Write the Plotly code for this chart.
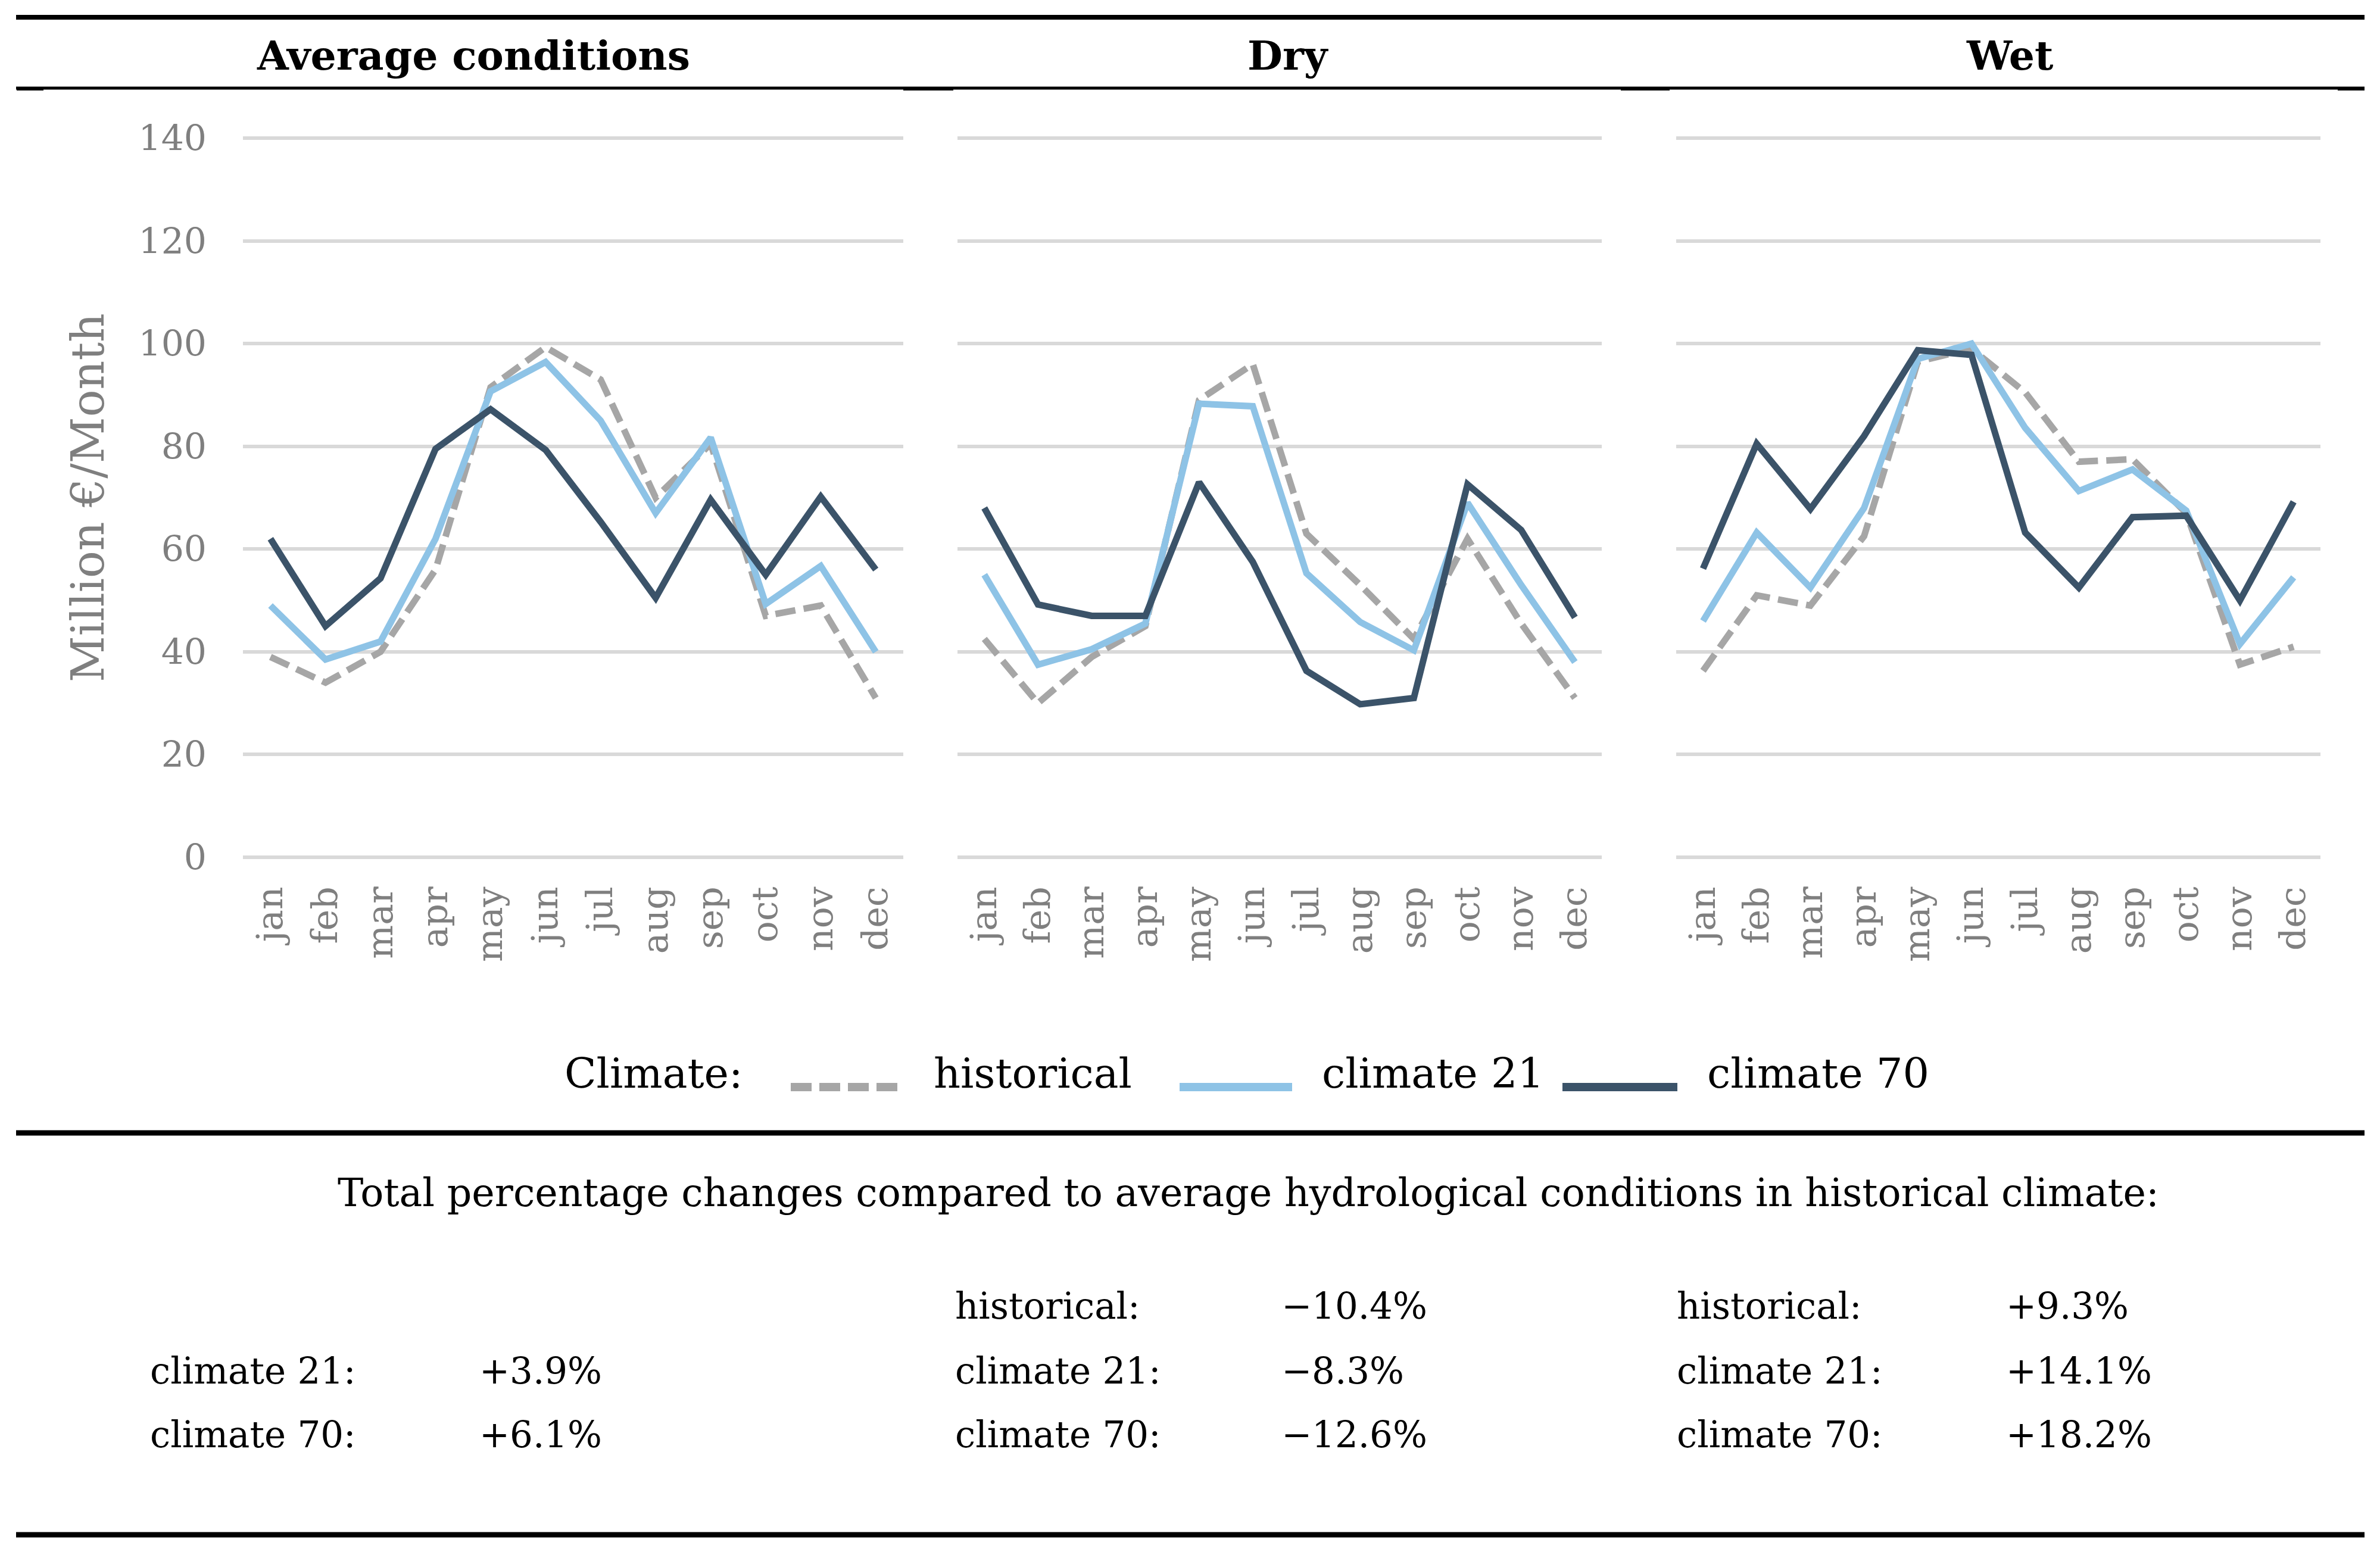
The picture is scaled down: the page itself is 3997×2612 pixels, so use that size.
import plotly.graph_objects as go

# ---------------- data ----------------
months = ["jan", "feb", "mar", "apr", "may", "jun", "jul", "aug", "sep", "oct", "nov", "dec"]
panel_titles = ["Average conditions", "Dry", "Wet"]
series_names = ["historical", "climate 21", "climate 70"]

hist_avg = [39, 34, 40, 56, 91.5, 99.3, 93, 70, 80.5, 47, 49, 31]
c21_avg = [49, 38.5, 42, 62, 90.7, 96.4, 85, 67, 81.7, 49.3, 56.7, 40]
c70_avg = [62, 45, 54.3, 79.5, 87.2, 79.3, 65.3, 50.5, 69.6, 55, 70.2, 56]

hist_dry = [42.5, 30, 39, 45, 89, 96, 63, 53, 42.5, 62, 45.5, 31]
c21_dry = [55, 37.5, 40.5, 45.5, 88.3, 87.8, 55.3, 45.8, 40.3, 69, 53, 38]
c70_dry = [68, 49.2, 47, 47, 73, 57.5, 36.3, 29.8, 31, 72.6, 63.7, 46.7]

hist_wet = [36.3, 51, 49, 62.5, 96.5, 99, 90.5, 77, 77.5, 67, 37.5, 41]
c21_wet = [46, 63.2, 52.5, 68, 97, 100, 83.6, 71.3, 75.5, 67.5, 41.5, 54.5]
c70_wet = [56.2, 80.5, 67.8, 82, 98.7, 97.8, 63.2, 52.5, 66.2, 66.5, 50, 69.2]

y_ticks = [0, 20, 40, 60, 80, 100, 120, 140]
y_title = "Million €/Month"
legend_title = "Climate:"
summary_title = "Total percentage changes compared to average hydrological conditions in historical climate:"
avg_labels = ["climate 21:", "climate 70:"]
avg_values = ["+3.9%", "+6.1%"]
dry_labels = ["historical:", "climate 21:", "climate 70:"]
dry_values = ["\u221210.4%", "\u22128.3%", "\u221212.6%"]
wet_labels = ["historical:", "climate 21:", "climate 70:"]
wet_values = ["+9.3%", "+14.1%", "+18.2%"]

# ---------------- style ----------------
W, H = 3997, 2612
FONT = "DejaVu Serif"
GRAY = "#7f7f7f"
GRID = "#d9d9d9"
COLORS = ["#a6a6a6", "#8ec3e6", "#3b5369"]
DASHES = ["34px,14px", "solid", "solid"]
LW = 11


def px(x):
    return x / W


def py(y):
    return 1 - y / H


panels = [
    (hist_avg, c21_avg, c70_avg),
    (hist_dry, c21_dry, c70_dry),
    (hist_wet, c21_wet, c70_wet),
]
x_domains = [(408, 1517), (1608, 2690), (2815, 3897)]
# 140 gridline at y=232, 0 gridline at y=1440; range padded by 0.5 on each end
unit = (1440 - 232) / 140.0
y_domain = [py(1440 + 0.5 * unit), py(232 - 0.5 * unit)]

fig = go.Figure()
for p, series in enumerate(panels):
    suffix = "" if p == 0 else str(p + 1)
    for s, vals in enumerate(series):
        fig.add_trace(go.Scatter(
            x=months, y=vals, mode="lines", name=series_names[s],
            line=dict(color=COLORS[s], width=LW, dash=DASHES[s]),
            xaxis="x" + suffix, yaxis="y" + suffix, showlegend=False,
        ))

layout = dict(
    width=W, height=H, margin=dict(l=0, r=0, t=0, b=0, pad=0, autoexpand=False),
    paper_bgcolor="white", plot_bgcolor="white",
    font=dict(family=FONT, color="black"),
    showlegend=False,
)
for p in range(3):
    suffix = "" if p == 0 else str(p + 1)
    layout["xaxis" + suffix] = dict(
        domain=[px(x_domains[p][0]), px(x_domains[p][1])],
        anchor="y" + suffix, type="category", categoryorder="array",
        categoryarray=months, range=[-0.5, 11.5], automargin=False,
        showgrid=False, zeroline=False, showline=False, ticks="",
        tickangle=-90, ticklabelstandoff=32,
        tickfont=dict(family=FONT, size=60, color=GRAY),
    )
    layout["yaxis" + suffix] = dict(
        domain=y_domain, anchor="x" + suffix, range=[-0.5, 140.5], automargin=False,
        tickvals=y_ticks, showgrid=True, gridcolor=GRID, gridwidth=6,
        zeroline=False, showline=False, ticks="",
        showticklabels=(p == 0), ticklabelstandoff=60,
        tickfont=dict(family=FONT, size=60, color=GRAY),
    )

annotations = []
# y axis title
annotations.append(dict(text=y_title, x=px(148), y=py(836), xref="paper", yref="paper",
                        textangle=-90, showarrow=False, xanchor="center", yanchor="middle",
                        font=dict(family=FONT, size=76, color=GRAY)))
# panel titles
title_x = [795, 2163, 3375]
for t, xc in zip(panel_titles, title_x):
    annotations.append(dict(text="<b>" + t + "</b>", x=px(xc), y=py(93), xref="paper", yref="paper",
                            showarrow=False, xanchor="center", yanchor="middle",
                            font=dict(family=FONT, size=68, color="black")))

shapes = []
# horizontal rules
for yy, lw in [(29, 8), (148, 5), (1903, 9), (2578, 9)]:
    shapes.append(dict(type="line", xref="paper", yref="paper", x0=px(27), x1=px(3971),
                       y0=py(yy), y1=py(yy), line=dict(color="black", width=lw)))
# small stubs below the title rule
for x0, x1 in [(28, 73), (1517, 1601), (2722, 2804), (3926, 3971)]:
    shapes.append(dict(type="rect", xref="paper", yref="paper", x0=px(x0), x1=px(x1),
                       y0=py(152), y1=py(148), line=dict(width=0), fillcolor="black"))

# custom legend
leg_y_text = 1803
leg_y_sym = 1826
annotations.append(dict(text=legend_title, x=px(946), y=py(leg_y_text), xref="paper", yref="paper",
                        showarrow=False, xanchor="left", yanchor="middle",
                        font=dict(family=FONT, size=70, color="black")))
sym_x = [(1328, 1508), (1981, 2170), (2624, 2817)]
text_x = [1566, 2218, 2865]
for s in range(3):
    shapes.append(dict(type="line", xref="paper", yref="paper", x0=px(sym_x[s][0]), x1=px(sym_x[s][1]),
                       y0=py(leg_y_sym), y1=py(leg_y_sym),
                       line=dict(color=COLORS[s], width=14, dash=("35px,13px" if s == 0 else "solid"))))
    annotations.append(dict(text=series_names[s], x=px(text_x[s]), y=py(leg_y_text), xref="paper", yref="paper",
                            showarrow=False, xanchor="left", yanchor="middle",
                            font=dict(family=FONT, size=70, color="black")))

# summary block
annotations.append(dict(text=summary_title, x=px(2096), y=py(2003), xref="paper", yref="paper",
                        showarrow=False, xanchor="center", yanchor="middle",
                        font=dict(family=FONT, size=65, color="black")))
row_y = [2193, 2302, 2409]
cols = [
    (avg_labels, avg_values, 250, 803, row_y[1:]),
    (dry_labels, dry_values, 1602, 2150, row_y),
    (wet_labels, wet_values, 2814, 3367, row_y),
]
for labels, values, lx, vx, rys in cols:
    for lab, val, ry in zip(labels, values, rys):
        annotations.append(dict(text=lab, x=px(lx), y=py(ry), xref="paper", yref="paper",
                                showarrow=False, xanchor="left", yanchor="middle",
                                font=dict(family=FONT, size=61, color="black")))
        annotations.append(dict(text=val, x=px(vx), y=py(ry), xref="paper", yref="paper",
                                showarrow=False, xanchor="left", yanchor="middle",
                                font=dict(family=FONT, size=61, color="black")))

layout["annotations"] = annotations
layout["shapes"] = shapes
fig.update_layout(**layout)

fig.write_html("out.html", config={"displayModeBar": False},
               post_script="document.body.style.margin='0';document.body.style.overflow='hidden';")
